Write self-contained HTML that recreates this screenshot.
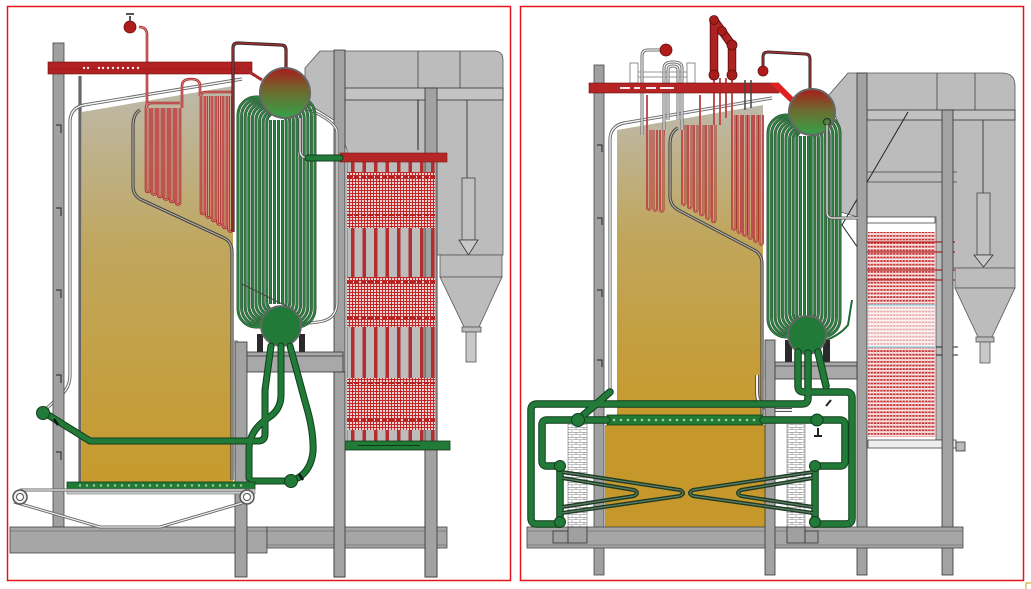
<!DOCTYPE html>
<html><head><meta charset="utf-8"><style>
html,body{margin:0;padding:0;background:#fff;width:1031px;height:589px;overflow:hidden}
svg{display:block}
</style></head><body>
<svg width="1031" height="589" viewBox="0 0 1031 589" xmlns="http://www.w3.org/2000/svg">
<defs>
<linearGradient id="yl" x1="0" y1="0" x2="0" y2="1">
<stop offset="0" stop-color="#bdb9ab"/><stop offset="0.42" stop-color="#c0a65c"/><stop offset="1" stop-color="#c79a2c"/>
</linearGradient>
<linearGradient id="dg" x1="0" y1="0" x2="0" y2="1">
<stop offset="0" stop-color="#a81c1c"/><stop offset="0.45" stop-color="#6e6a2e"/><stop offset="1" stop-color="#34a249"/>
</linearGradient>
<pattern id="rgrid" width="3" height="3" patternUnits="userSpaceOnUse"><rect width="3" height="3" fill="#f3dada"/><path d="M0 1.5H3M1.5 0V3" stroke="#c02828" stroke-width="1.1"/></pattern>
<pattern id="rdot" width="3.2" height="3.6" patternUnits="userSpaceOnUse"><rect width="3.2" height="3.6" fill="#fbf0f0"/><rect x="0.2" y="1" width="2.4" height="1.8" fill="#c42a2a"/><rect x="2.6" y="0" width="0.4" height="3.6" fill="#e8a8a8"/></pattern>
<pattern id="brick" width="8" height="5" patternUnits="userSpaceOnUse"><rect width="8" height="5" fill="#fff"/><path d="M0 2.3H8M0 4.8H8M4 0V2.3M0 2.3V4.8M8 2.3V4.8" stroke="#8a8a8a" stroke-width="0.6" fill="none"/></pattern>

<g id="bankL" fill="none">
<rect x="238" y="97" width="77" height="230" rx="18"/>
<rect x="241.6" y="99" width="69.8" height="226" rx="17"/>
<rect x="245.2" y="101" width="62.6" height="222" rx="16"/>
<rect x="248.8" y="103" width="55.4" height="218" rx="15"/>
<rect x="252.4" y="105" width="48.2" height="214" rx="14"/>
<rect x="256" y="107" width="41" height="210" rx="13"/>
<rect x="259.6" y="109" width="33.8" height="206" rx="12"/>
<rect x="263.2" y="111" width="26.6" height="202" rx="11"/>
<rect x="266.8" y="113" width="19.4" height="198" rx="9"/>
<path d="M270.5,120V304M274.5,120V304M278.5,120V304M282.5,120V304"/>
</g>
<g id="bankR" fill="none">
<rect x="768" y="115" width="72" height="222" rx="18"/>
<rect x="771.6" y="117" width="64.8" height="218" rx="17"/>
<rect x="775.2" y="119" width="57.6" height="214" rx="16"/>
<rect x="778.8" y="121" width="50.4" height="210" rx="15"/>
<rect x="782.4" y="123" width="43.2" height="206" rx="14"/>
<rect x="786" y="125" width="36" height="202" rx="13"/>
<rect x="789.6" y="127" width="28.8" height="198" rx="12"/>
<rect x="793.2" y="129" width="21.6" height="194" rx="10"/>
<rect x="796.8" y="131" width="14.4" height="190" rx="7"/>
<path d="M800.5,136V316M804.5,136V316M808.5,136V316"/>
</g>
<g id="rtL" fill="none">
<path d="M146,108V190a2,2 0 0 0 4,0V108M152,108V192.5a2,2 0 0 0 4,0V108M158,108V195a2,2 0 0 0 4,0V108M164,108V197.5a2,2 0 0 0 4,0V108M170,108V200a2,2 0 0 0 4,0V108M176,108V202.5a2,2 0 0 0 4,0V108"/>
<path d="M201,96V212a2,2 0 0 0 4,0V96M206.5,96V215.5a2,2 0 0 0 4,0V96M212,96V219a2,2 0 0 0 4,0V96M217.5,96V222.5a2,2 0 0 0 4,0V96M223,96V226a2,2 0 0 0 4,0V96M228.5,96V229.5a2,2 0 0 0 4,0V96"/>
<path d="M146,108Q146,103 152,103H180M201,96Q201,92 206,92H232"/>
<path d="M182,108V86Q182,79 191,79Q200,79 200,86V96"/>
<path d="M147,108V35Q147,27 139,27"/>
</g>
<g id="rtR" fill="none">
<path d="M647,130V208a1.75,1.75 0 0 0 3.5,0V130M653.5,130V209a1.75,1.75 0 0 0 3.5,0V130M660,130V210a1.75,1.75 0 0 0 3.5,0V130"/>
<path d="M682,125V203a1.75,1.75 0 0 0 3.5,0V125M688,125V206.5a1.75,1.75 0 0 0 3.5,0V125M694,125V210a1.75,1.75 0 0 0 3.5,0V125M700,125V213.5a1.75,1.75 0 0 0 3.5,0V125M706,125V217a1.75,1.75 0 0 0 3.5,0V125M712,125V220.5a1.75,1.75 0 0 0 3.5,0V125"/>
<path d="M732,115V228a1.75,1.75 0 0 0 3.5,0V115M737.5,115V231a1.75,1.75 0 0 0 3.5,0V115M743,115V234a1.75,1.75 0 0 0 3.5,0V115M748.5,115V237a1.75,1.75 0 0 0 3.5,0V115M754,115V240a1.75,1.75 0 0 0 3.5,0V115M759.5,115V243a1.75,1.75 0 0 0 3.5,0V115"/>
<path d="M714,78V125M720,78V125M726,78V118M732,78V115M647,95V130M664,120V135M682,120V130M700,95V125"/>
</g>
<g id="gpL" fill="none" stroke-linejoin="round" stroke-linecap="round">
<path d="M45,413L90,441L258,441Q265,441 265,434L265,390L271,346"/>
<path d="M281,346V395Q281,410 268,418Q250,430 249,448V478"/>
<path d="M290,346L306,405Q314,432 313,452Q311,470 298,478"/>
<path d="M291,481H252"/>
<path d="M308,158H340"/>
</g>
<g id="gpR" fill="none" stroke-linejoin="round" stroke-linecap="round">
<path d="M798,352V386Q798,392 804,392L846,392Q852,392 852,398V518Q852,524 846,524L815,524"/>
<path d="M808,353V398Q808,404 802,404L537,404Q531,404 531,410V518Q531,524 537,524L560,524"/>
<path d="M818,352L826,386"/>
<path d="M607,420H547Q542,420 542,425V461Q542,466 547,466H560"/>
<path d="M763,420H840Q845,420 845,425V461Q845,466 840,466H815"/>
<path d="M560,466V522M815,466V522"/>
<path d="M610,392L580,418"/>
</g>
<g id="hp" fill="none" stroke-linejoin="round">
<path d="M562,472L680,490Q686,493 680,496L562,513"/>
<path d="M562,478L634,490Q640,493 634,496L562,507"/>
<path d="M813,472L693,490Q687,493 693,496L813,513"/>
<path d="M813,478L741,490Q735,493 741,496L813,507"/>
</g>
</defs>

<!-- ================= LEFT PANEL ================= -->
<rect x="7.5" y="6.5" width="503" height="574" fill="#fff" stroke="#e8141c" stroke-width="1.5"/>
<path d="M305,68L320,51L494,51Q503,51 503,60L503,255L437,255L437,447L347,447L347,150L337,122L305,102Z" fill="#bcbcbc" stroke="#555" stroke-width="0.8"/>
<path d="M418,51V88M460,51V88" stroke="#444" stroke-width="0.8"/>
<rect x="345" y="88" width="158" height="12" fill="#c4c4c4" stroke="#333" stroke-width="0.8"/>
<path d="M467,100V178" stroke="#444" stroke-width="1"/>
<rect x="462" y="178" width="13" height="62" fill="#c0c0c0" stroke="#444" stroke-width="0.8"/>
<path d="M459,240H478L468.5,255Z" fill="#c8c8c8" stroke="#333" stroke-width="0.8"/>
<rect x="440" y="255" width="62" height="22" fill="#bcbcbc" stroke="#555" stroke-width="0.8"/>
<path d="M440,277H502L479,327H464Z" fill="#bcbcbc" stroke="#555" stroke-width="0.8"/>
<rect x="462" y="327" width="19" height="5" fill="#bbb" stroke="#555" stroke-width="0.8"/>
<rect x="466" y="332" width="10" height="30" fill="#c8c8c8" stroke="#555" stroke-width="0.8"/>
<rect x="425" y="88" width="12" height="489" fill="#a2a2a2" stroke="#333" stroke-width="0.8"/>
<rect x="334" y="50" width="11" height="527" fill="#a2a2a2" stroke="#333" stroke-width="0.8"/>

<!-- air heater left -->
<g fill="#b52d2d">
<rect x="351" y="160" width="3.5" height="281"/><rect x="362.5" y="160" width="3.5" height="281"/>
<rect x="374" y="160" width="3.5" height="281"/><rect x="385.5" y="160" width="3.5" height="281"/>
<rect x="397" y="160" width="3.5" height="281"/><rect x="408.5" y="160" width="3.5" height="281"/>
<rect x="420" y="160" width="3.5" height="281"/><rect x="431" y="160" width="3.5" height="281"/>
</g>
<rect x="347" y="172" width="88" height="56" fill="url(#rgrid)"/>
<rect x="347" y="277" width="88" height="50" fill="url(#rgrid)"/>
<rect x="347" y="378" width="88" height="52" fill="url(#rgrid)"/>
<path d="M347,177H435M347,215H435M347,282H435M347,318H435M347,383H435M347,420H435" stroke="#b52020" stroke-width="2" stroke-dasharray="5,2"/>
<rect x="340" y="153" width="107" height="9" fill="#b52727" stroke="#7a1515" stroke-width="0.6"/>
<path d="M418,100V150" stroke="#222" stroke-width="1"/>
<rect x="340" y="441" width="110" height="9" fill="#217a36" stroke="#0f3a1a" stroke-width="0.8"/>
<path d="M358,445.5H420" stroke="#0f3a1a" stroke-width="1"/>

<!-- furnace left -->
<path d="M82,112L233,86L233,482L82,482Z" fill="url(#yl)"/>
<path d="M70,375V122Q70,108 84,105L242,79M80,76V482" stroke="#666" stroke-width="3.2" fill="none"/>
<path d="M70,375V122Q70,108 84,105L242,79" stroke="#f4f4f4" stroke-width="1.4" fill="none"/>
<path d="M70,375Q70,388 60,396L45,410" stroke="#666" stroke-width="3.2" fill="none"/>
<path d="M70,375Q70,388 60,396L45,410" stroke="#f4f4f4" stroke-width="1.4" fill="none"/>
<path d="M140,110Q133,114 133,126V186Q133,196 142,200L224,238Q232,242 232,252V480" stroke="#444" stroke-width="3.2" fill="none"/>
<path d="M140,110Q133,114 133,126V186Q133,196 142,200L224,238Q232,242 232,252V480" stroke="#b8b0a0" stroke-width="1.2" fill="none"/>
<path d="M300,106Q336,120 337,132V302Q337,320 318,322L300,324" stroke="#666" stroke-width="3" fill="none"/>
<path d="M300,106Q336,120 337,132V302Q337,320 318,322L300,324" stroke="#f4f4f4" stroke-width="1.2" fill="none"/>
<path d="M236,340V470Q236,481 250,482" stroke="#666" stroke-width="3" fill="none"/>
<path d="M236,340V470Q236,481 250,482" stroke="#f4f4f4" stroke-width="1.2" fill="none"/>

<use href="#rtL" stroke="#a82828" stroke-width="2.6"/>
<use href="#rtL" stroke="#e69494" stroke-width="0.8"/>
<circle cx="130" cy="27" r="6" fill="#b01c1c" stroke="#6a1010" stroke-width="0.8"/>
<path d="M130,21V16M126,14H134" stroke="#555" stroke-width="2"/>

<!-- left column -->
<rect x="53" y="43" width="11" height="484" fill="#a0a0a0" stroke="#444" stroke-width="0.8"/>
<path d="M56,125H61V133M56,208H61V216M56,290H61V298M56,375H61V383M56,452H61V460" stroke="#222" stroke-width="1" fill="none"/>

<!-- red beam -->
<rect x="48" y="62" width="204" height="12" fill="#b22222" stroke="#6a1010" stroke-width="0.6"/>
<path d="M48,69H252" stroke="#8a1414" stroke-width="0.6"/>
<g fill="#f4e8e8"><circle cx="84" cy="68" r="1.2"/><circle cx="88" cy="68" r="1.2"/><circle cx="99" cy="68" r="1.2"/><circle cx="103" cy="68" r="1.2"/><circle cx="108" cy="68" r="1.2"/><circle cx="113" cy="68" r="1.2"/><circle cx="118" cy="68" r="1.2"/><circle cx="123" cy="68" r="1.2"/><circle cx="128" cy="68" r="1.2"/><circle cx="133" cy="68" r="1.2"/><circle cx="138" cy="68" r="1.2"/></g>
<path d="M240,66L262,80" stroke="#a82828" stroke-width="3"/>
<path d="M233,232V48Q233,43 238,43L281,45Q286,45 286,50V70" stroke="#3a2a2a" stroke-width="3.2" fill="none"/>
<path d="M233,232V48Q233,43 238,43L281,45Q286,45 286,50V70" stroke="#a83030" stroke-width="1.3" fill="none"/>

<!-- bank left -->
<use href="#bankL" stroke="#3a4a3c" stroke-width="3"/>
<use href="#bankL" stroke="#2b803f" stroke-width="2"/>
<path d="M242,284L288,307" stroke="#444" stroke-width="1"/>
<path d="M300,118V150Q300,158 308,158" stroke="#666" stroke-width="3" fill="none"/>
<path d="M300,118V150Q300,158 308,158" stroke="#eee" stroke-width="1.2" fill="none"/>
<circle cx="285" cy="93" r="25" fill="url(#dg)" stroke="#666" stroke-width="2"/>
<rect x="257" y="334" width="6" height="18" fill="#2a2a2a"/><rect x="299" y="334" width="6" height="18" fill="#2a2a2a"/>
<rect x="238" y="352" width="105" height="20" fill="#a8a8a8" stroke="#333" stroke-width="0.8"/>
<path d="M238,356H343" stroke="#333" stroke-width="0.8"/>
<circle cx="281" cy="326" r="20" fill="#217a38" stroke="#666" stroke-width="1.8"/>

<!-- bottom beams left -->
<rect x="10" y="527" width="257" height="26" fill="#a6a6a6" stroke="#444" stroke-width="0.8"/>
<rect x="267" y="527" width="180" height="21" fill="#a6a6a6" stroke="#444" stroke-width="0.8"/>
<path d="M10,531H267M267,531H447M267,545H447" stroke="#555" stroke-width="0.6"/>
<rect x="235" y="342" width="12" height="235" fill="#a2a2a2" stroke="#333" stroke-width="0.8"/>
<rect x="334" y="372" width="11" height="205" fill="#a2a2a2" stroke="#333" stroke-width="0.8"/>
<rect x="425" y="450" width="12" height="127" fill="#a2a2a2" stroke="#333" stroke-width="0.8"/>

<!-- green pipes left -->
<use href="#gpL" stroke="#123d1d" stroke-width="7"/>
<use href="#gpL" stroke="#217a37" stroke-width="5"/>
<circle cx="43" cy="413" r="6.5" fill="#217a37" stroke="#123d1d" stroke-width="1"/>
<circle cx="291" cy="481" r="6.5" fill="#217a37" stroke="#123d1d" stroke-width="1"/>
<path d="M54,419l4,6M299,474l4,6" stroke="#111" stroke-width="2.5"/>

<!-- grate left -->
<rect x="67" y="482" width="188" height="7" fill="#1f7a34" stroke="#123d1d" stroke-width="0.8"/>
<g fill="#a8c8a8"><circle cx="80" cy="485.5" r="1.2"/><circle cx="87" cy="485.5" r="1.2"/><circle cx="94" cy="485.5" r="1.2"/><circle cx="101" cy="485.5" r="1.2"/><circle cx="108" cy="485.5" r="1.2"/><circle cx="115" cy="485.5" r="1.2"/><circle cx="122" cy="485.5" r="1.2"/><circle cx="129" cy="485.5" r="1.2"/><circle cx="136" cy="485.5" r="1.2"/><circle cx="143" cy="485.5" r="1.2"/><circle cx="150" cy="485.5" r="1.2"/><circle cx="157" cy="485.5" r="1.2"/><circle cx="164" cy="485.5" r="1.2"/><circle cx="171" cy="485.5" r="1.2"/><circle cx="178" cy="485.5" r="1.2"/><circle cx="185" cy="485.5" r="1.2"/><circle cx="192" cy="485.5" r="1.2"/><circle cx="199" cy="485.5" r="1.2"/><circle cx="206" cy="485.5" r="1.2"/><circle cx="213" cy="485.5" r="1.2"/><circle cx="220" cy="485.5" r="1.2"/><circle cx="227" cy="485.5" r="1.2"/><circle cx="234" cy="485.5" r="1.2"/><circle cx="241" cy="485.5" r="1.2"/></g>
<rect x="67" y="489" width="188" height="5" fill="#c8c8c8" stroke="#777" stroke-width="0.6"/>
<path d="M20,490H247M14,502L100,527H160L242,503" stroke="#666" stroke-width="3" fill="none"/>
<path d="M20,490H247M14,502L100,527H160L242,503" stroke="#eee" stroke-width="1.2" fill="none"/>
<circle cx="20" cy="497" r="7" fill="#eee" stroke="#555" stroke-width="1.5"/><circle cx="20" cy="497" r="3.5" fill="#fff" stroke="#555" stroke-width="1"/>
<circle cx="247" cy="497" r="7" fill="#eee" stroke="#555" stroke-width="1.5"/><circle cx="247" cy="497" r="3.5" fill="#fff" stroke="#555" stroke-width="1"/>

<!-- ================= RIGHT PANEL ================= -->
<rect x="520.5" y="6.5" width="503" height="574" fill="#fff" stroke="#e8141c" stroke-width="1.5"/>
<path d="M828,96L848,73L1002,73Q1015,73 1015,86L1015,268L953,268L953,440L936,440L936,217L858,217L840,212L840,128Z" fill="#bcbcbc" stroke="#555" stroke-width="0.8"/>
<path d="M937,73V110M975,73V110" stroke="#444" stroke-width="0.8"/>
<rect x="867" y="110" width="148" height="10" fill="#c2c2c2" stroke="#333" stroke-width="0.8"/>
<path d="M867,172H957M867,182H957" stroke="#444" stroke-width="0.8"/>
<path d="M908,112L842,225L865,258" stroke="#222" stroke-width="1" fill="none"/>
<path d="M983,120V193" stroke="#444" stroke-width="1"/>
<rect x="977" y="193" width="13" height="62" fill="#c0c0c0" stroke="#444" stroke-width="0.8"/>
<path d="M974,255H993L983.5,267Z" fill="#c8c8c8" stroke="#333" stroke-width="0.8"/>
<rect x="955" y="268" width="60" height="20" fill="#bcbcbc" stroke="#555" stroke-width="0.8"/>
<path d="M955,288H1015L992,337H978Z" fill="#bcbcbc" stroke="#555" stroke-width="0.8"/>
<rect x="976" y="337" width="18" height="5" fill="#bbb" stroke="#555" stroke-width="0.8"/>
<rect x="980" y="342" width="10" height="21" fill="#c8c8c8" stroke="#555" stroke-width="0.8"/>

<!-- air heater right -->
<rect x="868" y="232" width="67" height="205" fill="url(#rdot)"/>
<rect x="868" y="305" width="67" height="42" fill="#fff" opacity="0.6"/>
<path d="M868,305H935M868,347H935" stroke="#9cd4de" stroke-width="1.5"/>
<path d="M862,242H955M862,252H955M862,270H955M862,280H955" stroke="#b02020" stroke-width="1.3"/>
<path d="M936,347H958M936,355H958" stroke="#222" stroke-width="1"/>
<rect x="867" y="217" width="68" height="6" fill="#fff" stroke="#444" stroke-width="0.8"/>
<rect x="868" y="440" width="88" height="8" fill="#eee" stroke="#444" stroke-width="0.8"/>
<rect x="956" y="442" width="9" height="9" fill="#bbb" stroke="#333" stroke-width="0.8"/>
<rect x="857" y="73" width="10" height="502" fill="#a2a2a2" stroke="#333" stroke-width="0.8"/>
<rect x="942" y="110" width="11" height="465" fill="#a2a2a2" stroke="#333" stroke-width="0.8"/>

<!-- furnace right -->
<path d="M617,130L763,105L763,415L617,415Z" fill="url(#yl)"/>
<rect x="605" y="425" width="160" height="102" fill="#c6982c"/>
<path d="M610,392V140Q610,126 624,123L772,98" stroke="#666" stroke-width="3.2" fill="none"/>
<path d="M610,392V140Q610,126 624,123L772,98" stroke="#f4f4f4" stroke-width="1.4" fill="none"/>
<path d="M678,128Q670,132 670,144V196Q670,206 680,211L754,250Q762,254 762,264V415" stroke="#444" stroke-width="3.2" fill="none"/>
<path d="M678,128Q670,132 670,144V196Q670,206 680,211L754,250Q762,254 762,264V415" stroke="#b8b0a0" stroke-width="1.2" fill="none"/>
<path d="M757,375V392Q757,409 775,410H792" stroke="#555" stroke-width="4" fill="none"/>
<path d="M757,375V392Q757,409 775,410H792" stroke="#f4f4f4" stroke-width="2" fill="none"/>

<use href="#rtR" stroke="#a82828" stroke-width="1.9"/>
<use href="#rtR" stroke="#e69494" stroke-width="0.6"/>

<!-- top frame right -->
<rect x="630" y="63" width="8" height="20" fill="#fff" stroke="#777" stroke-width="0.8"/>
<rect x="687" y="63" width="8" height="20" fill="#fff" stroke="#777" stroke-width="0.8"/>
<path d="M638,72H687M638,77H687" stroke="#777" stroke-width="0.8"/>
<path d="M642,135V56Q642,50 648,50L660,50M664,130V68Q664,62 673,62Q682,62 682,68V130M668,120V70Q668,66 673,66Q678,66 678,70V120" stroke="#666" stroke-width="3" fill="none"/>
<path d="M642,135V56Q642,50 648,50L660,50M664,130V68Q664,62 673,62Q682,62 682,68V130M668,120V70Q668,66 673,66Q678,66 678,70V120" stroke="#f2f2f2" stroke-width="1.2" fill="none"/>
<circle cx="666" cy="50" r="6" fill="#b01c1c" stroke="#6a1010" stroke-width="0.8"/>

<rect x="594" y="65" width="10" height="510" fill="#a0a0a0" stroke="#444" stroke-width="0.8"/>
<path d="M597,145H602V152M597,218H602V225M597,290H602V297M597,360H602V367" stroke="#222" stroke-width="1" fill="none"/>

<rect x="589" y="83" width="190" height="10" fill="#b52525" stroke="#6a1010" stroke-width="0.6"/>
<path d="M770,83L779,83L797,101L792,104Z" fill="#e02020"/>
<g fill="#f4e8e8"><rect x="620" y="87" width="10" height="2"/><rect x="634" y="87" width="6" height="2"/><rect x="646" y="87" width="10" height="2"/><rect x="660" y="87" width="14" height="2"/></g>
<path d="M745,80V110M751,80V108" stroke="#444" stroke-width="1.5"/>

<!-- red pipes top right -->
<path d="M714,20V75M714,20L732,45V75" stroke="#6a1212" stroke-width="8.5" stroke-linecap="round" stroke-linejoin="round" fill="none"/>
<path d="M714,20V75M714,20L732,45V75" stroke="#b02222" stroke-width="6.5" stroke-linecap="round" stroke-linejoin="round" fill="none"/>
<g fill="#a81c1c" stroke="#5a1010" stroke-width="0.8"><circle cx="714" cy="20" r="4.5"/><circle cx="722" cy="31" r="4.5"/><circle cx="732" cy="45" r="5"/><circle cx="714" cy="75" r="5"/><circle cx="732" cy="75" r="5"/></g>
<path d="M763,66V57Q763,52 768,52L805,54Q810,54 810,59V90" stroke="#3a2a2a" stroke-width="3" fill="none"/>
<path d="M763,66V57Q763,52 768,52L805,54Q810,54 810,59V90" stroke="#a83030" stroke-width="1.2" fill="none"/>
<circle cx="763" cy="71" r="5" fill="#b01c1c" stroke="#6a1010" stroke-width="0.8"/>

<!-- bank right -->
<use href="#bankR" stroke="#3a4a3c" stroke-width="3"/>
<use href="#bankR" stroke="#2b803f" stroke-width="2"/>
<circle cx="812" cy="112" r="23" fill="url(#dg)" stroke="#666" stroke-width="2"/>
<circle cx="827" cy="122" r="3.5" fill="none" stroke="#333" stroke-width="1.2"/>
<path d="M827,125V212Q827,218 833,218H858" stroke="#555" stroke-width="3" fill="none"/>
<path d="M827,125V212Q827,218 833,218H858" stroke="#eee" stroke-width="1.2" fill="none"/>
<path d="M826,340Q840,335 848,325L852,300" stroke="#1f6b33" stroke-width="2" fill="none"/>
<rect x="785" y="340" width="7" height="22" fill="#2a2a2a"/><rect x="823" y="340" width="7" height="22" fill="#2a2a2a"/>
<rect x="765" y="362" width="92" height="17" fill="#a8a8a8" stroke="#333" stroke-width="0.8"/>
<path d="M765,366H857" stroke="#333" stroke-width="0.8"/>
<circle cx="807" cy="335" r="19" fill="#217a38" stroke="#666" stroke-width="1.8"/>

<!-- bottom right -->
<rect x="527" y="527" width="436" height="21" fill="#a6a6a6" stroke="#444" stroke-width="0.8"/>
<path d="M527,531H963M527,545H963" stroke="#555" stroke-width="0.6"/>
<rect x="765" y="340" width="10" height="235" fill="#a2a2a2" stroke="#333" stroke-width="0.8"/>
<rect x="568" y="423" width="19" height="104" fill="url(#brick)" stroke="#777" stroke-width="0.6"/>
<rect x="787" y="423" width="18" height="104" fill="url(#brick)" stroke="#777" stroke-width="0.6"/>
<rect x="553" y="531" width="15" height="12" fill="#a0a0a0" stroke="#333" stroke-width="0.8"/>
<rect x="568" y="527" width="19" height="16" fill="#a0a0a0" stroke="#333" stroke-width="0.8"/>
<rect x="787" y="527" width="18" height="16" fill="#a0a0a0" stroke="#333" stroke-width="0.8"/>
<rect x="805" y="531" width="13" height="12" fill="#a0a0a0" stroke="#333" stroke-width="0.8"/>

<rect x="607" y="415" width="156" height="10" fill="#1f7a34" stroke="#123d1d" stroke-width="0.8"/>
<g fill="#a8c8a8"><circle cx="614" cy="420" r="1.3"/><circle cx="621" cy="420" r="1.3"/><circle cx="628" cy="420" r="1.3"/><circle cx="635" cy="420" r="1.3"/><circle cx="642" cy="420" r="1.3"/><circle cx="649" cy="420" r="1.3"/><circle cx="656" cy="420" r="1.3"/><circle cx="663" cy="420" r="1.3"/><circle cx="670" cy="420" r="1.3"/><circle cx="677" cy="420" r="1.3"/><circle cx="684" cy="420" r="1.3"/><circle cx="691" cy="420" r="1.3"/><circle cx="698" cy="420" r="1.3"/><circle cx="705" cy="420" r="1.3"/><circle cx="712" cy="420" r="1.3"/><circle cx="719" cy="420" r="1.3"/><circle cx="726" cy="420" r="1.3"/><circle cx="733" cy="420" r="1.3"/><circle cx="740" cy="420" r="1.3"/><circle cx="747" cy="420" r="1.3"/><circle cx="754" cy="420" r="1.3"/></g>

<use href="#gpR" stroke="#123d1d" stroke-width="7.5"/>
<use href="#gpR" stroke="#217a37" stroke-width="5.5"/>
<use href="#hp" stroke="#1c3a24" stroke-width="4"/>
<use href="#hp" stroke="#5f7f64" stroke-width="1.2"/>
<g fill="#217a37" stroke="#123d1d" stroke-width="1">
<circle cx="578" cy="420" r="6.5"/><circle cx="560" cy="466" r="5.5"/><circle cx="560" cy="522" r="5.5"/>
<circle cx="817" cy="420" r="6"/><circle cx="815" cy="466" r="5.5"/><circle cx="815" cy="522" r="5.5"/>
</g>
<path d="M826,406l5,-6M818,428v8M814,436h8" stroke="#222" stroke-width="2"/>

<path d="M1026,589V583H1031" stroke="#d8b040" stroke-width="1.2" fill="none"/>
</svg>
</body></html>
